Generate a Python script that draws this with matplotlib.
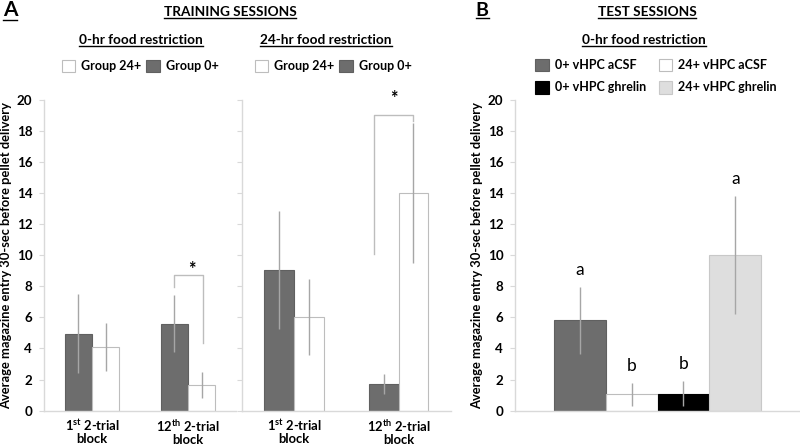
import matplotlib
matplotlib.use('Agg')
import matplotlib.pyplot as plt
from matplotlib.lines import Line2D
import numpy as np

plt.rcParams['font.family'] = ['Lato', 'DejaVu Sans']
plt.rcParams['mathtext.default'] = 'regular'

# ---------------- data ----------------
train_blocks = ['1$^{st}$ 2-trial\nblock', '12$^{th}$ 2-trial\nblock']
group_labels = ['Group 24+', 'Group 0+']

fr0_group0 = [4.95, 5.6]
fr0_group0_err = [2.55, 1.82]
fr0_group24 = [4.1, 1.65]
fr0_group24_err = [1.53, 0.86]

fr24_group0 = [9.05, 1.7]
fr24_group0_err = [3.8, 0.65]
fr24_group24 = [6.0, 14.0]
fr24_group24_err = [2.45, 4.5]

test_labels = ['0+ vHPC aCSF', '24+ vHPC aCSF', '0+ vHPC ghrelin', '24+ vHPC ghrelin']
test_values = [5.8, 1.05, 1.1, 10.0]
test_err = [2.15, 0.73, 0.8, 3.8]
test_letters = ['a', 'b', 'b', 'a']

yticks = [0, 2, 4, 6, 8, 10, 12, 14, 16, 18, 20]
ylabel = 'Average magazine entry 30-sec before pellet delivery'

# ---------------- style ----------------
DARK = '#6d6d6d'
BLACK = '#000000'
WHITE = '#ffffff'
LIGHT = '#dedede'
AX = '#d9d9d9'
ERR = '#a6a6a6'

W, H = 800, 445
fig = plt.figure(figsize=(8, 4.45), dpi=100)


def fx(px):
    return px / W


def fy(py):
    return 1 - py / H


y0, y20 = 410.7, 99.6
bot = fy(y0)
ht = (y0 - y20) / H


def style_axis(ax, labels=True):
    ax.set_ylim(0, 20)
    ax.set_yticks(yticks)
    for s in ['top', 'right']:
        ax.spines[s].set_visible(False)
    for s in ['left', 'bottom']:
        ax.spines[s].set_color(AX)
        ax.spines[s].set_linewidth(1)
    ax.tick_params(axis='y', length=3.5, width=0.8, color=AX, pad=5,
                   labelsize=9.6)
    ax.tick_params(axis='x', length=0, pad=5, labelsize=9.4)
    for t in ax.get_yticklabels():
        t.set_fontweight('bold')
    for t in ax.get_xticklabels():
        t.set_fontweight('bold')
        t.set_linespacing(1.0)
    if not labels:
        ax.set_yticklabels([])
    ax.patch.set_alpha(0)


bw = 0.286
x = np.arange(2)
ekw = dict(ecolor=ERR, elinewidth=1, capsize=0)

# --- Panel A, 0-hr ---
axA1 = fig.add_axes([fx(44), bot, fx(192), ht])
b0 = axA1.bar(x - bw / 2, fr0_group0, bw, color=DARK, edgecolor='#606060', lw=0.8,
              yerr=fr0_group0_err, error_kw=ekw, label=group_labels[1])
b24 = axA1.bar(x + bw / 2, fr0_group24, bw, color=WHITE, edgecolor='#bdbdbd', lw=0.8,
               yerr=fr0_group24_err, error_kw=ekw, label=group_labels[0])
axA1.set_xlim(-0.5, 1.5)
axA1.set_xticks(x)
axA1.set_xticklabels(train_blocks)
style_axis(axA1)
axA1.set_ylabel(ylabel, fontsize=9.3, fontweight='bold', labelpad=3)
# significance bracket
axA1.plot([0.854, 0.854, 1.156, 1.156], [7.93, 8.73, 8.73, 4.33], color='#bdbdbd', lw=1)
axA1.text(1.04, 8.5, '*', ha='center', va='bottom', fontsize=13, fontweight='bold')

# --- Panel A, 24-hr ---
axA2 = fig.add_axes([fx(241.75), bot, fx(209), ht])
c0 = axA2.bar(x - bw / 2, fr24_group0, bw, color=DARK, edgecolor='#606060', lw=0.8,
              yerr=fr24_group0_err, error_kw=ekw, label=group_labels[1])
c24 = axA2.bar(x + bw / 2, fr24_group24, bw, color=WHITE, edgecolor='#bdbdbd', lw=0.8,
               yerr=fr24_group24_err, error_kw=ekw, label=group_labels[0])
axA2.set_xlim(-0.5, 1.5)
axA2.set_xticks(x)
axA2.set_xticklabels(train_blocks)
style_axis(axA2, labels=False)
axA2.plot([0.766, 0.766, 1.14, 1.14], [10.1, 19.0, 19.0, 18.6], color='#bdbdbd', lw=1,
          clip_on=False)
axA2.text(0.957, 19.5, '*', ha='center', va='bottom', fontsize=13, fontweight='bold',
          clip_on=False)

# --- Panel B ---
axB = fig.add_axes([fx(515), bot, fx(285), ht])
bwB = 0.182
xb = (np.arange(4) - 1.5) * bwB
colsB = [DARK, WHITE, BLACK, LIGHT]
edgB = ['#606060', '#bdbdbd', '#000000', '#c8c8c8']
barsB = axB.bar(xb, test_values, bwB, color=colsB, edgecolor=edgB, lw=0.8,
                yerr=test_err, error_kw=ekw)
axB.set_xlim(-0.5, 0.5)
axB.set_xticks([])
style_axis(axB)
axB.set_ylabel(ylabel, fontsize=9.3, fontweight='bold', labelpad=3)
for xi, v, e, lt in zip(xb, test_values, test_err, test_letters):
    axB.text(xi, v + e + 0.8, lt, ha='center', va='baseline', fontsize=12.5)

# ---------------- legends ----------------
legkw = dict(frameon=False, ncol=2, handlelength=1.1, handleheight=1.2,
             handletextpad=0.45, columnspacing=0.4, borderpad=0,
             prop=dict(weight='bold', size=9))
lg1 = fig.legend([b24, b0], group_labels, loc='center', bbox_to_anchor=(fx(140), fy(66)), **legkw)
lg2 = fig.legend([c24, c0], group_labels, loc='center', bbox_to_anchor=(fx(333), fy(66)), **legkw)
legkwB = dict(legkw)
legkwB['columnspacing'] = 1.0
legkwB['labelspacing'] = 0.75
hB = [barsB[0], barsB[2], barsB[1], barsB[3]]
lB = [test_labels[0], test_labels[2], test_labels[1], test_labels[3]]
lg3 = fig.legend(hB, lB, loc='center', bbox_to_anchor=(fx(656), fy(76)), **legkwB)

# ---------------- titles ----------------
titles = [
    ('A', 10, 10, 15),
    ('TRAINING SESSIONS', 230, 12, 9.8),
    ('0-hr food restriction', 141, 40, 9.8),
    ('24-hr food restriction', 326, 40, 9.8),
    ('B', 482, 10, 14),
    ('TEST SESSIONS', 647, 12, 9.8),
    ('0-hr food restriction', 644, 40, 9.8),
]
texts = []
for s, px, py, fs in titles:
    t = fig.text(fx(px), fy(py), s, ha='center', va='center', fontsize=fs, fontweight='bold')
    texts.append(t)

fig.canvas.draw()
r = fig.canvas.get_renderer()
for t in texts:
    bb = t.get_window_extent(r).transformed(fig.transFigure.inverted())
    yl = bb.y0 + 0.3 / H
    fig.add_artist(Line2D([bb.x0, bb.x1], [yl, yl], color='black', lw=1.0,
                          transform=fig.transFigure))

fig.savefig('out.png', dpi=100)
